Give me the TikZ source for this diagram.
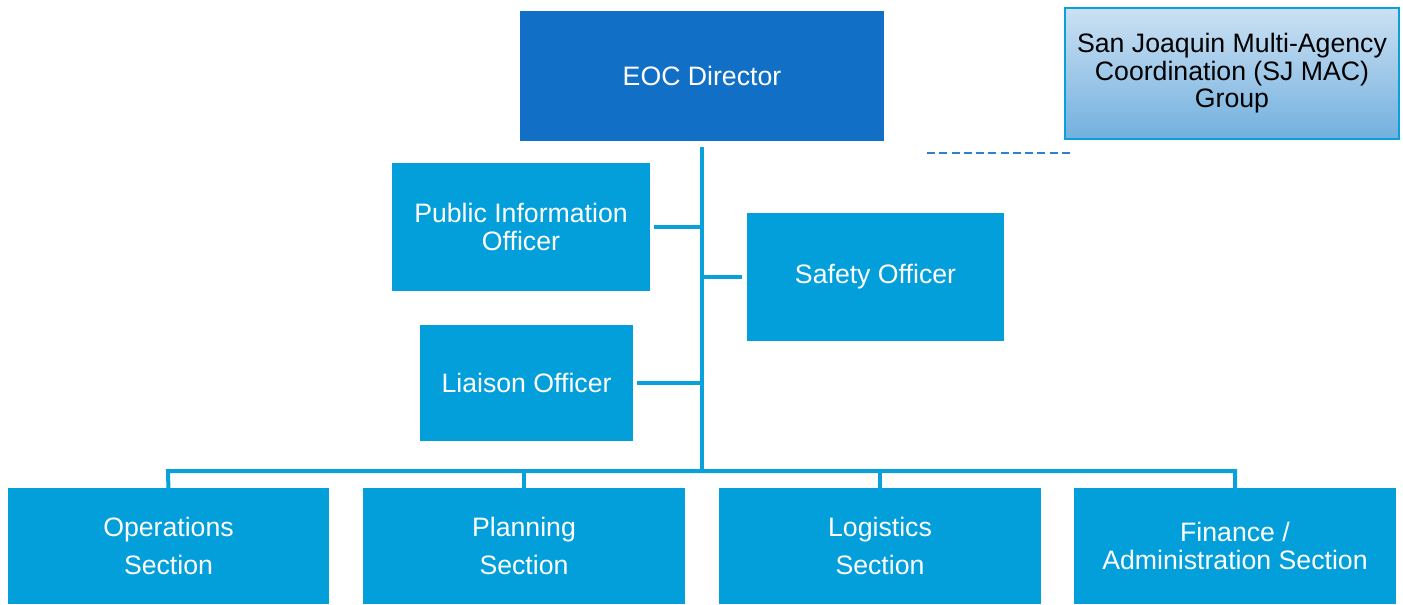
\documentclass[tikz,border=0pt]{standalone}
\usepackage{fontspec}
\setmainfont{Liberation Sans}
\begin{document}
\definecolor{boxblue}{HTML}{029FDA}
\definecolor{dirblue}{HTML}{1170C6}
\definecolor{linkblue}{HTML}{0AA0DA}
\definecolor{dashblue}{HTML}{2F80D2}
\definecolor{macTop}{HTML}{CCE1F3}
\definecolor{macBot}{HTML}{72B0DE}
\begin{tikzpicture}[x=0.75pt,y=-0.75pt,
  box/.style={fill=boxblue,draw=none,text=white,align=center,inner sep=0pt,
    font=\fontsize{20}{20.6}\selectfont},
  link/.style={draw=linkblue,line width=3pt}]
\useasboundingbox (0,0) rectangle (1403,604);
% director
\node[box,fill=dirblue,minimum width=364*0.75pt,minimum height=130*0.75pt] (dir) at (702,76) {EOC Director};
% multi-agency coordination group
\node[draw=linkblue,line width=1.5pt,top color=macTop,bottom color=macBot,align=center,inner sep=0pt,
  minimum width=334*0.75pt,minimum height=131*0.75pt,font=\fontsize{20}{20.6}\selectfont] (mac) at (1232,73.5)
  {San Joaquin Multi-Agency\\Coordination (SJ MAC)\\Group};
\coordinate (dA) at (927,153);
\coordinate (dB) at (1073,153);
\draw[dashblue,line width=1.5pt,dash pattern=on 6pt off 3.2pt] (dA) -- (dB);
% staff
\node[box,minimum width=258*0.75pt,minimum height=128*0.75pt] (pio) at (521,227) {Public Information\\Officer};
\node[box,minimum width=257*0.75pt,minimum height=128*0.75pt] (saf) at (875.5,277) {Safety Officer};
\node[box,minimum width=213*0.75pt,minimum height=116*0.75pt] (lia) at (526.5,383) {Liaison Officer};
% sections
\node[box,minimum width=321*0.75pt,minimum height=116*0.75pt] (ops) at (168.5,546) {Operations\\[8pt]Section};
\node[box,minimum width=322*0.75pt,minimum height=116*0.75pt] (pla) at (524,546) {Planning\\[8pt]Section};
\node[box,minimum width=322*0.75pt,minimum height=116*0.75pt] (log) at (880,546) {Logistics\\[8pt]Section};
\node[box,minimum width=322*0.75pt,minimum height=116*0.75pt] (fin) at (1235,546) {Finance /\\Administration Section};
% connectors
\coordinate (top) at (702,147);
\coordinate (hub) at (702,471);
\draw[link] (top) -- (hub);
\draw[link] ([xshift=3pt]pio.east) -- (702,227);
\draw[link] (702,277) -- ([xshift=-3.5pt]saf.west);
\draw[link] ([xshift=3pt]lia.east) -- (702,383);
\draw[link,line cap=rect] ([yshift=-3pt]ops.north) -- (168,471) -- (1235,471) -- ([yshift=-3pt]fin.north);
\draw[link] ([yshift=-3pt]pla.north) -- (524,471);
\draw[link] ([yshift=-3pt]log.north) -- (880,471);
\end{tikzpicture}
\end{document}
